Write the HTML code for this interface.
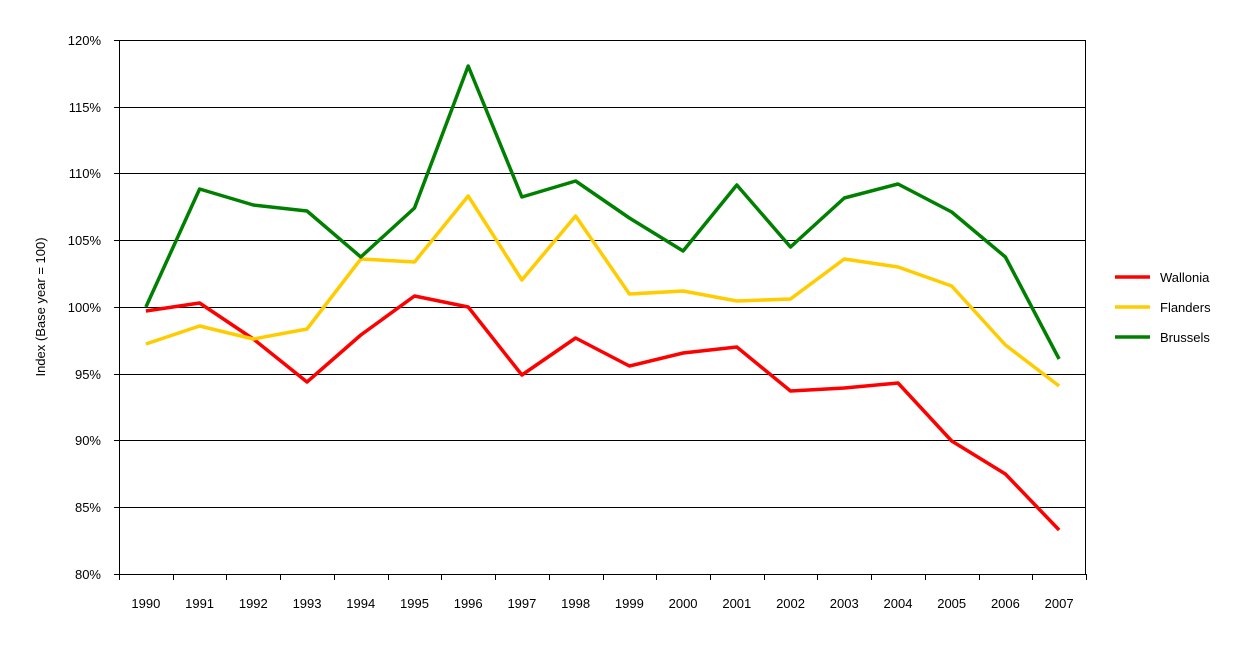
<!DOCTYPE html>
<html><head><meta charset="utf-8"><style>
html,body{margin:0;padding:0;background:#fff;}
svg text{font-family:"Liberation Sans",Arial,sans-serif;font-size:13px;fill:#000;}
</style></head><body>
<svg width="1241" height="640" xmlns="http://www.w3.org/2000/svg">
<g stroke="#000" stroke-width="1">
<line x1="119" y1="40.5" x2="1086" y2="40.5"/>
<line x1="119" y1="107.5" x2="1086" y2="107.5"/>
<line x1="119" y1="173.5" x2="1086" y2="173.5"/>
<line x1="119" y1="240.5" x2="1086" y2="240.5"/>
<line x1="119" y1="307.5" x2="1086" y2="307.5"/>
<line x1="119" y1="374.5" x2="1086" y2="374.5"/>
<line x1="119" y1="440.5" x2="1086" y2="440.5"/>
<line x1="119" y1="507.5" x2="1086" y2="507.5"/>
<line x1="119" y1="574.5" x2="1086" y2="574.5"/>
<line x1="119.5" y1="40" x2="119.5" y2="574"/>
<line x1="1085.5" y1="40" x2="1085.5" y2="574"/>
<line x1="114" y1="40.5" x2="119" y2="40.5"/><line x1="114" y1="107.5" x2="119" y2="107.5"/><line x1="114" y1="173.5" x2="119" y2="173.5"/><line x1="114" y1="240.5" x2="119" y2="240.5"/><line x1="114" y1="307.5" x2="119" y2="307.5"/><line x1="114" y1="374.5" x2="119" y2="374.5"/><line x1="114" y1="440.5" x2="119" y2="440.5"/><line x1="114" y1="507.5" x2="119" y2="507.5"/><line x1="114" y1="574.5" x2="119" y2="574.5"/>
</g>
<g stroke="#000" id="xt"></g>
<g text-anchor="end">
<text x="101" y="45">120%</text><text x="101" y="112">115%</text><text x="101" y="178">110%</text><text x="101" y="245">105%</text><text x="101" y="312">100%</text><text x="101" y="379">95%</text><text x="101" y="445">90%</text><text x="101" y="512">85%</text><text x="101" y="579">80%</text>
</g>
<text transform="translate(45,307) rotate(-90)" text-anchor="middle">Index (Base year = 100)</text>
<g id="xl" text-anchor="middle"></g>
<g fill="none" stroke-width="3.5" stroke-linejoin="round">
<polyline id="w" stroke="#ff0000"/>
<polyline id="f" stroke="#ffcc00"/>
<polyline id="b" stroke="#008000"/>
</g>
<g stroke-width="3.5">
<line x1="1115" y1="277" x2="1150" y2="277" stroke="#ff0000"/>
<line x1="1115" y1="307" x2="1150" y2="307" stroke="#ffcc00"/>
<line x1="1115" y1="337" x2="1150" y2="337" stroke="#008000"/>
</g>
<text x="1160" y="282">Wallonia</text>
<text x="1160" y="312">Flanders</text>
<text x="1160" y="342">Brussels</text>
<script>
var W=[311,303,339,382,335,296,307,375,338,366,353,347,391,388,383,441,474,530];
var F=[344,326,339,329,259,262,196,280,216,294,291,301,299,259,267,286,345,386];
var B=[307,189,205,211,257,208,66,197,181,218,251,185,247,198,184,212,257,359];
var step=967/18;function x(i){return 119+step/2+i*step;}
function pts(a){return a.map(function(v,i){return x(i).toFixed(1)+","+v}).join(" ");}
document.getElementById('w').setAttribute('points',pts(W));
document.getElementById('f').setAttribute('points',pts(F));
document.getElementById('b').setAttribute('points',pts(B));
var ns="http://www.w3.org/2000/svg",xt=document.getElementById('xt'),xl=document.getElementById('xl');
for(var i=0;i<=18;i++){var l=document.createElementNS(ns,'line');var xx=Math.round(119+i*step)+0.5;l.setAttribute('x1',xx);l.setAttribute('x2',xx);l.setAttribute('y1',574);l.setAttribute('y2',580);xt.appendChild(l);}
for(var i=0;i<18;i++){var t=document.createElementNS(ns,'text');t.setAttribute('x',x(i));t.setAttribute('y',608);t.textContent=1990+i;xl.appendChild(t);}
</script>
</svg>
</body></html>
